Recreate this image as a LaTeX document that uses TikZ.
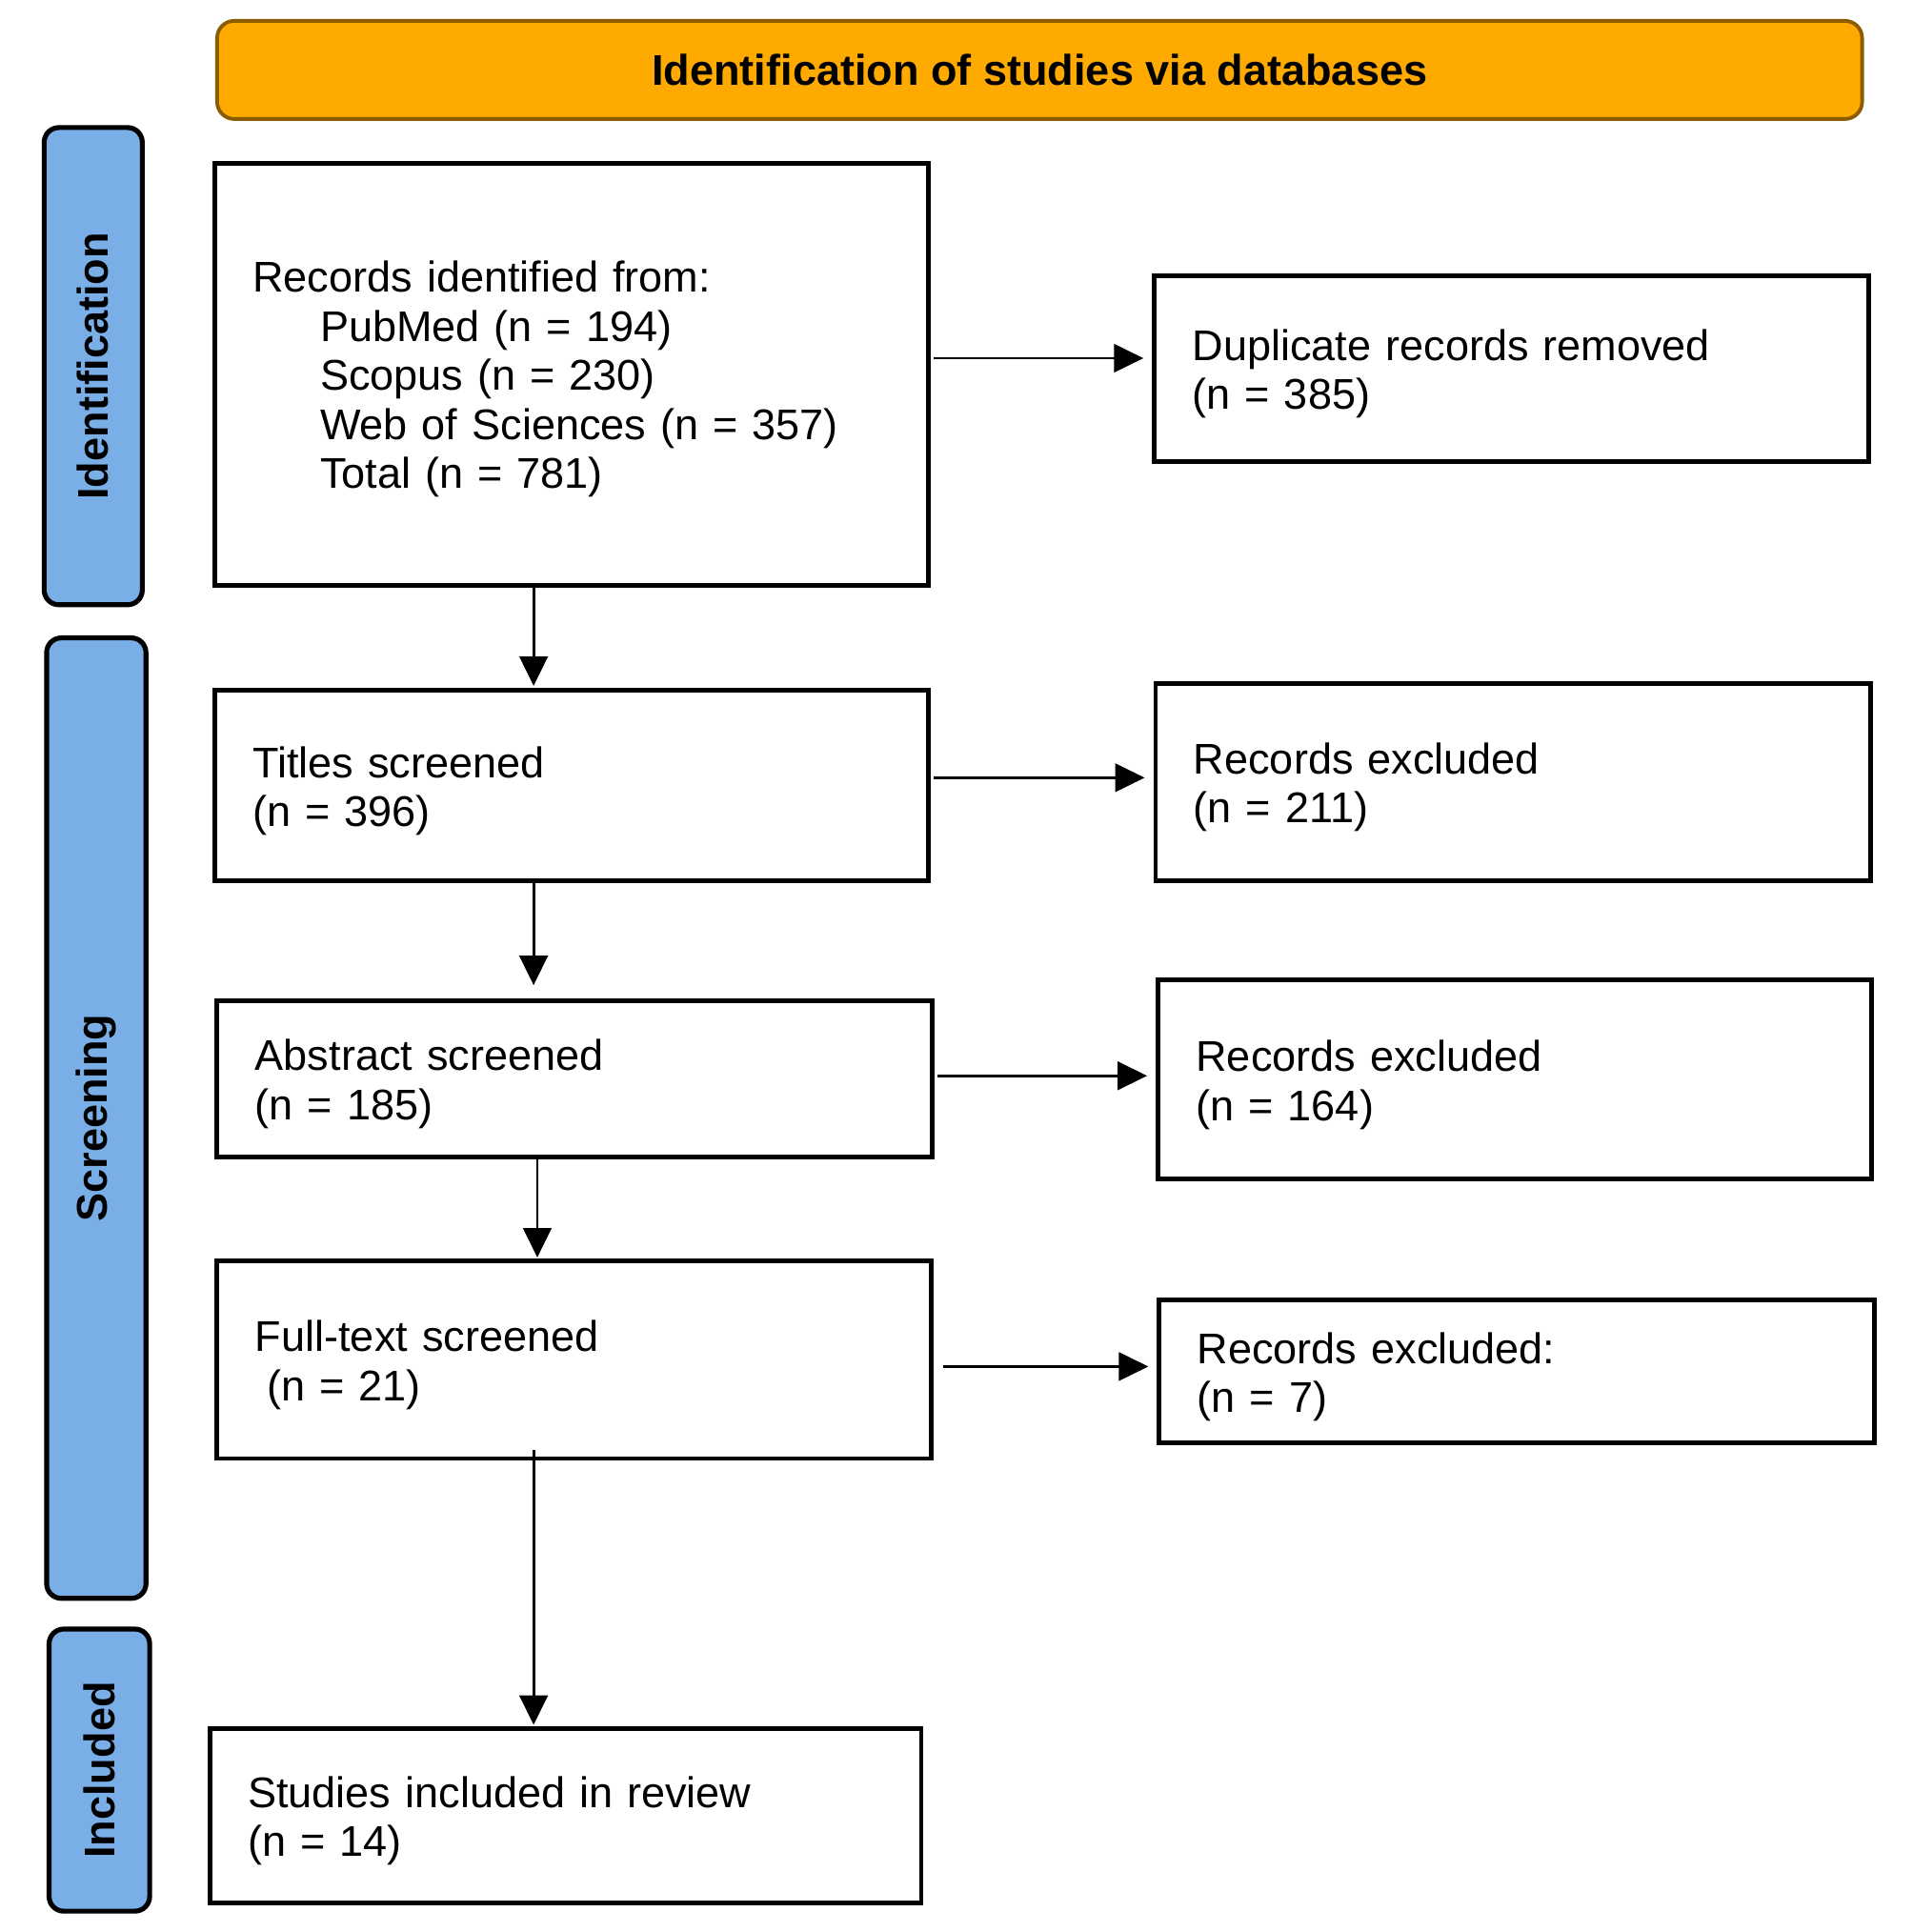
\documentclass[tikz,border=0pt]{standalone}
\usepackage{fontspec}
\setmainfont{Liberation Sans}
\usetikzlibrary{arrows.meta}
\definecolor{hdrfill}{HTML}{FFAA00}
\definecolor{hdrdraw}{HTML}{8C5C00}
\definecolor{labfill}{HTML}{79AEE7}
\begin{document}
\begin{tikzpicture}[x=1pt,y=-1pt,
  every node/.style={font=\fontsize{35}{40}\selectfont},
  box/.style={draw=black, line width=3.8pt, fill=white, inner xsep=31pt, inner ysep=0pt, align=left,
    execute at begin node={\rule{0pt}{34pt}}},
  lab/.style={draw=black, line width=4pt, fill=labfill, rounded corners=12pt, inner sep=0pt, font=\fontsize{35}{40}\selectfont\bfseries},
  hdr/.style={draw=hdrdraw, line width=3pt, fill=hdrfill, rounded corners=14pt, inner sep=0pt, font=\fontsize{35}{40}\selectfont\bfseries},
  arr/.style={-{Triangle[length=24pt,width=23pt]}, line width=2.2pt}]
\useasboundingbox (0,0) rectangle (1559,1575);
% header
\node[hdr, minimum width=1341pt, minimum height=80pt] (hdr) at (847.5,57) {Identification of studies via databases};
% side labels
\node[lab, rotate=90, minimum width=389pt, minimum height=80pt] (lab1) at (76,298.5) {Identification};
\node[lab, rotate=90, minimum width=783pt, minimum height=81pt] (lab2) at (78.5,911.5) {Screening};
\node[lab, rotate=90, minimum width=230pt, minimum height=82pt] (lab3) at (81,1443) {Included};
% left column
\node[box, minimum width=582pt, minimum height=344pt, text width=520pt] (r1) at (466,305)
  {Records identified from:\\
   \hspace*{55pt}PubMed (n = 194)\\
   \hspace*{55pt}Scopus (n = 230)\\
   \hspace*{55pt}Web of Sciences (n = 357)\\
   \hspace*{55pt}Total (n = 781)};
\node[box, minimum width=582pt, minimum height=155pt, text width=520pt] (r2) at (466,640.5)
  {Titles screened\\(n = 396)};
\node[box, minimum width=583pt, minimum height=127pt, text width=521pt] (r3) at (468.5,879.5)
  {Abstract screened\\(n = 185)};
\node[box, minimum width=582pt, minimum height=161pt, text width=520pt] (r4) at (468,1108.5)
  {Full-text screened\\\hspace*{9.7pt}(n = 21)};
\node[box, minimum width=580pt, minimum height=142pt, text width=518pt] (r5) at (461,1480)
  {Studies included in review\\(n = 14)};
% right column
\node[box, minimum width=582pt, minimum height=151pt, text width=520pt] (d1) at (1232,300.5)
  {Duplicate records removed\\(n = 385)};
\node[box, minimum width=583pt, minimum height=161pt, text width=521pt] (d2) at (1233.5,637.5)
  {Records excluded\\(n = 211)};
\node[box, minimum width=582pt, minimum height=162pt, text width=520pt] (d3) at (1235,880)
  {Records excluded\\(n = 164)};
\node[box, minimum width=583pt, minimum height=116pt, text width=521pt] (d4) at (1236.5,1118)
  {Records excluded:\\(n = 7)};
% helper coordinates for connector lines
\coordinate (h1) at (0,292);
\coordinate (h2) at (0,634);
\coordinate (h3) at (0,877);
\coordinate (h4) at (0,1114);
\coordinate (v1) at (435,0);
\coordinate (v3) at (438,0);
\coordinate (v4) at (435,1182);
% horizontal connectors
\draw[arr, shorten <=2pt, shorten >=7pt] (r1.east |- h1) -- (d1.west |- h1);
\draw[arr, shorten <=2pt, shorten >=7pt] (r2.east |- h2) -- (d2.west |- h2);
\draw[arr, shorten <=2pt, shorten >=7pt] (r3.east |- h3) -- (d3.west |- h3);
\draw[arr, shorten <=8pt, shorten >=7pt] (r4.east |- h4) -- (d4.west |- h4);
% vertical connectors
\draw[arr, shorten >=2pt] (r1.south -| v1) -- (r2.north -| v1);
\draw[arr, shorten >=11pt] (r2.south -| v1) -- (r3.north -| v1);
\draw[arr, shorten >=1pt] (r3.south -| v3) -- (r4.north -| v3);
\draw[arr, shorten >=1pt] (v4) -- (r5.north -| v4);
\end{tikzpicture}
\end{document}
